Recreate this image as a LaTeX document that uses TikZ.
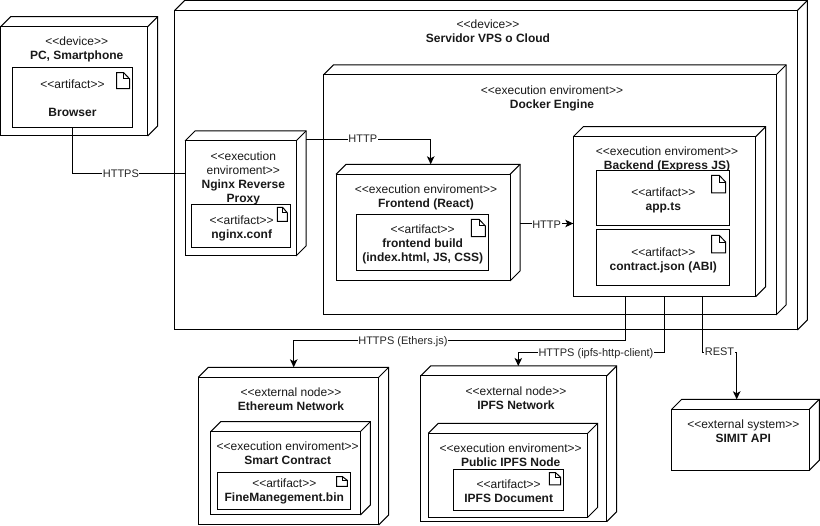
\documentclass[tikz,border=0pt]{standalone}
\usepackage{fontspec}
\setmainfont{Liberation Sans}
\usetikzlibrary{arrows.meta}
\tikzset{
  box/.style={draw=black,line width=1pt,inner sep=0pt,outer sep=0pt,rectangle,fill=white},
  backface/.style={inner sep=0pt,outer sep=0pt,rectangle},
  depth/.style={draw=black,line width=1pt,line join=miter},
  caption/.style={anchor=north,inner sep=0pt,outer sep=0pt,align=center,font=\fontsize{12}{14}\selectfont,text=black!90},
  edgelabel/.style={fill=white,inner sep=0.5pt,outer sep=0pt,font=\fontsize{11}{13}\selectfont,text=black!85,text height=8pt,text depth=2pt},
  conn/.style={draw=black,line width=1pt},
  arrowconn/.style={conn,-{Stealth[length=8pt,width=7.5pt,inset=2pt]}},
  docicon/.style={draw=black,line width=1pt,line join=miter},
}
\newcommand{\fr}{\rule{0pt}{11pt}}
\newcommand{\stereo}[1]{<{}<#1>{}>}
% name x1 y1 x2 y2 cx baseline text
\newcommand{\cube}[8]{%
  \node[box,minimum width={(#4-#2)*1pt},minimum height={(#5-#3)*1pt}] (#1) at ({(#2+#4)/2},{(#3+#5)/2}) {};
  \node[backface,minimum width={(#4-#2)*1pt},minimum height={(#5-#3)*1pt}] (#1-back) at ({(#2+#4)/2+10},{(#3+#5)/2-10}) {};
  \draw[depth] (#1.north west) -- (#1-back.north west) -- (#1-back.north east) -- (#1-back.south east) -- (#1.south east);
  \draw[depth] (#1.north east) -- (#1-back.north east);
  \node[caption] (#1-text) at (#6,{#7-10.5}) {\fr #8};
}
% name x1 y1 x2 y2 cx baseline text
\newcommand{\artifactbox}[8]{%
  \node[box,minimum width={(#4-#2)*1pt},minimum height={(#5-#3)*1pt}] (#1) at ({(#2+#4)/2},{(#3+#5)/2}) {};
  \node[caption] (#1-text) at (#6,{#7-10.5}) {\fr #8};
}
% x y w h
\newcommand{\docmark}[4]{%
  \draw[docicon] (#1,#2) -- ({#1+#3*0.55},#2) -- ({#1+#3},{#2+#4*0.38}) -- ({#1+#3},{#2+#4}) -- (#1,{#2+#4}) -- cycle;
  \draw[docicon] ({#1+#3*0.55},#2) -- ({#1+#3*0.55},{#2+#4*0.38}) -- ({#1+#3},{#2+#4*0.38});
}
\begin{document}
\begin{tikzpicture}[x=1pt,y=-1pt]
\useasboundingbox (0,0) rectangle (820,526);
\fill[white] (0,0) rectangle (820,526);

% PC
\cube{pc}{0.7}{26.7}{147.7}{136}{76.7}{45}{\stereo{device}\\\textbf{PC, Smartphone}}
\artifactbox{browser}{12.5}{67.5}{132.5}{127.5}{72.5}{88}{\stereo{artifact}\\[14pt]\textbf{Browser}}
\docmark{116.7}{72.7}{12.8}{16}

% Server
\cube{server}{174.7}{10.5}{797.3}{330}{488}{28.5}{\stereo{device}\\\textbf{Servidor VPS o Cloud}}

% Docker
\cube{docker}{323.3}{75}{776}{315}{552}{94}{\stereo{execution enviroment}\\\textbf{Docker Engine}}

% Nginx
\cube{nginx}{185}{141}{296}{256}{243.3}{160}{\stereo{execution\\enviroment}\\\textbf{Nginx Reverse}\\\textbf{Proxy}}
\artifactbox{nginxconf}{191.7}{205}{290}{247.7}{241.7}{224}{\stereo{artifact}\\\textbf{nginx.conf}}
\docmark{277.3}{207.5}{10}{14}

% Frontend
\cube{frontend}{336}{174.3}{510}{281}{426}{193}{\stereo{execution enviroment}\\\textbf{Frontend (React)}}
\artifactbox{build}{356.7}{215}{488.7}{270.3}{422.7}{233}{\stereo{artifact}\\\textbf{frontend build}\\\textbf{(index.html, JS, CSS)}}
\docmark{471.3}{219.3}{14}{17.4}

% Backend
\cube{backend}{573.3}{136.7}{755.7}{296.7}{667}{155}{\stereo{execution enviroment}\\\textbf{Backend (Express JS)}}
\artifactbox{appts}{596.7}{170.7}{729.3}{226}{663.3}{196}{\stereo{artifact}\\\textbf{app.ts}}
\docmark{711.7}{175.5}{14}{17.4}
\artifactbox{contract}{596.7}{230}{729.3}{285.7}{663.3}{256}{\stereo{artifact}\\\textbf{contract.json (ABI)}}
\docmark{711.7}{235.5}{14}{17.4}

% Ethereum
\cube{ethereum}{198.3}{377.3}{378.7}{525}{291}{396}{\stereo{external node}\\\textbf{Ethereum Network}}
\cube{smart}{210.7}{431.7}{360.3}{515}{287.7}{450}{\stereo{execution enviroment}\\\textbf{Smart Contract}}
\artifactbox{fine}{217.3}{472.3}{350.3}{509.3}{284.3}{487.5}{\stereo{artifact}\\\textbf{FineManegement.bin}}
\docmark{336.7}{476.7}{10.6}{9.6}

% IPFS
\cube{ipfs}{420.7}{376}{606.7}{521.7}{516}{395}{\stereo{external node}\\\textbf{IPFS Network}}
\cube{public}{428.3}{433.3}{587.7}{517.3}{510.7}{452}{\stereo{execution enviroment}\\\textbf{Public IPFS Node}}
\artifactbox{ipfsdoc}{453.3}{469.3}{563.3}{510.3}{508.7}{488}{\stereo{artifact}\\\textbf{IPFS Document}}
\docmark{549.3}{472.7}{11.4}{12.3}

% SIMIT
\cube{simit}{671.7}{409.3}{809.3}{470.3}{743.3}{428.5}{\stereo{external system}\\\textbf{SIMIT API}}

% Connectors
\draw[conn] (browser.south) -- (browser.south |- 0,173.5)
  -- node[edgelabel,pos=0.43,yshift=-1pt] (lhttps) {HTTPS} (nginx.west |- 0,173.5);
\draw[arrowconn] (nginx-back.east |- 0,139.3) -- node[edgelabel,pos=0.455,yshift=-0.5pt] (lhttp1) {HTTP} (430.7,139.3) -- (430.7,0 |- frontend-back.north);
\draw[arrowconn] (frontend-back.east |- 0,223.5) -- node[edgelabel,pos=0.5,yshift=-2.5pt] (lhttp2) {HTTP} (backend.west |- 0,223.5);
\draw[arrowconn] (625.7,0 |- backend.south) -- (625.7,340.7)
  -- node[edgelabel,pos=0.671,yshift=-1pt] (lethers) {HTTPS (Ethers.js)} (293.7,340.7) -- (293.7,0 |- ethereum-back.north);
\draw[arrowconn] (664,0 |- backend.south) -- (664,352.7)
  -- node[edgelabel,pos=0.467,yshift=-1pt] (lipfs) {HTTPS (ipfs-http-client)} (518.3,352.7) -- (518.3,0 |- ipfs-back.north);
\draw[arrowconn] (702.3,0 |- backend.south) -- (702.3,352.7)
  -- node[edgelabel,pos=0.5] (lrest) {REST} (736.7,352.7) -- (736.7,0 |- simit-back.north);
\end{tikzpicture}
\end{document}
